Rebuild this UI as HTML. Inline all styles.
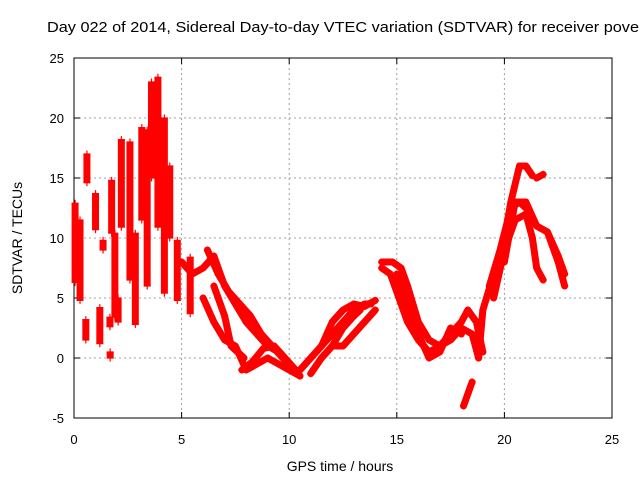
<!DOCTYPE html>
<html><head><meta charset="utf-8"><style>
body{margin:0;background:#fff}
svg{display:block}
text{font-family:"Liberation Sans",sans-serif;font-size:13px;fill:#000}
</style></head><body>
<svg id="chart" width="640" height="480">
<rect width="640" height="480" fill="#fff"/>
<text x="47" y="32" style="font-size:15px" textLength="592" lengthAdjust="spacingAndGlyphs">Day 022 of 2014, Sidereal Day-to-day VTEC variation (SDTVAR) for receiver pove</text>
<g id="grid"></g>
<g id="axes"></g>
<g id="marks"></g>
<text x="340" y="471" text-anchor="middle" style="font-size:14px">GPS time / hours</text>
<text transform="translate(22,238) rotate(-90)" text-anchor="middle" style="font-size:14px">SDTVAR / TECUs</text>
</svg>
<script>
const xTicks=[0,5,10,15,20,25];
const yTicks=[-5,0,5,10,15,20,25];
// early vertical clusters: [hour, low, high]
const spikeHours=[0.05,0.28,0.6,0.55,1.0,1.2,1.35,1.67,1.68,1.75,1.9,2.2,2.05,2.6,2.85,3.15,3.4,3.6,3.9,4.2,4.45,4.8,5.4];
const spikeLow=[6.3,4.8,14.6,1.5,10.7,1.2,9.0,2.6,0.0,10.4,3.4,10.9,3.0,6.5,2.8,11.5,6.0,15.0,10.9,5.4,10.0,4.8,3.7];
const spikeHigh=[12.9,11.5,17.0,3.2,13.7,4.2,9.8,3.4,0.5,14.8,10.4,18.2,5.0,18.0,10.4,19.2,19.0,23.0,23.4,20.0,16.0,9.8,8.4];
// tracks: arrays of hours and values
const trackHours=[
[5.0,5.5,6.0,6.5,7.0,7.5,8.0,8.5,9.0,9.5,10.0,10.5],
[6.2,6.7,7.2,7.7,8.2,8.7,9.2,9.7,10.3],
[6.0,6.5,7.0,7.5,8.0,8.5,9.0,9.5,10.0,10.5],
[6.5,7.0,7.3,7.6,7.9],
[7.8,8.3,8.8,9.3,9.8,10.3],
[10.5,11.0,11.5,12.0,12.5,13.0,13.5,13.8],
[11.0,11.5,12.0,12.5,13.0,13.3],
[11.5,12.0,12.5,13.0,13.5,14.0],
[12.0,12.5,13.0,13.5,14.0],
[14.3,14.8,15.2,15.5,16.0,16.5,17.0,17.5,18.0,18.5,18.8],
[14.3,14.7,15.0,15.5,16.0,16.5,17.0,17.5,18.0,18.3,18.7,19.0],
[15.0,15.5,16.0,16.5,17.0,17.5,18.0],
[18.1,18.3,18.5],
[18.8,19.0,19.5,20.0,20.3,20.7,21.0,21.3],
[21.5,21.8],
[19.3,19.8,20.3,20.7,21.0,21.5,22.0,22.5,22.8],
[19.5,20.0,20.5,21.0,21.3,21.5,21.8],
[20.0,20.5,21.0,21.5,22.0,22.5,22.8]
];
const trackValues=[
[8,7,7.5,8.5,6,4.5,3,2,1,0.5,-0.5,-1.5],
[9,7,5.5,4.5,3.5,2,1,0,-1],
[5,3,1.5,1,-1,-0.5,0,-0.5,-1,-1.5],
[6,3.5,1,0.5,0],
[-1,-0.3,0.8,1,0,-1],
[-1,0,1,2,3,4,4.5,4.5],
[-1.3,0,1,2.5,3.5,4],
[1,3,4,4.5,4.3,4.8],
[1,1,2,3,4],
[8,8,7.5,6,3,1.5,1,1.5,2.5,2,0],
[7.5,7,5.5,3,1.5,0.5,1,2,3,4,3,0.5],
[7,4.5,2,0,0.5,2.5,2],
[-4,-3,-2],
[0,4,7,10,13,16,16,15.2],
[15,15.3],
[6,9,12.5,13,12.5,11,10.5,8.5,7],
[5,9,11.5,12,10,7.5,6.5],
[8,13,13,11,10.5,8,6]
];
const X0=74,X1=612,Y0=418,Y1=58,XMIN=0,XMAX=25,YMIN=-5,YMAX=25;
const sx=h=>X0+(h-XMIN)/(XMAX-XMIN)*(X1-X0);
const sy=v=>Y0-(v-YMIN)/(YMAX-YMIN)*(Y0-Y1);
const NS="http://www.w3.org/2000/svg";
const grid=document.getElementById('grid'),axes=document.getElementById('axes'),marks=document.getElementById('marks');
function mk(tag,at,parent){const e=document.createElementNS(NS,tag);for(const k in at)e.setAttribute(k,at[k]);parent.appendChild(e);return e;}
xTicks.forEach(t=>{
  const x=sx(t);
  if(t>XMIN&&t<XMAX){const g=mk('line',{x1:x,x2:x,y1:Y1,y2:Y0,stroke:'#a0a0a0','stroke-dasharray':'2,3'},grid);
  
  }
  mk('line',{x1:x,x2:x,y1:Y0,y2:Y0-6,stroke:'#000'},axes);
  mk('line',{x1:x,x2:x,y1:Y1,y2:Y1+6,stroke:'#000'},axes);
  const l=mk('text',{x:x,y:Y0+26,'text-anchor':'middle'},axes);l.textContent=t;
  
  
});
yTicks.forEach(t=>{
  const y=sy(t);
  if(t>YMIN&&t<YMAX){const g=mk('line',{x1:X0,x2:X1,y1:y,y2:y,stroke:'#a0a0a0','stroke-dasharray':'2,3'},grid);
  
  }
  mk('line',{x1:X0,x2:X0+6,y1:y,y2:y,stroke:'#000'},axes);
  mk('line',{x1:X1,x2:X1-6,y1:y,y2:y,stroke:'#000'},axes);
  const l=mk('text',{x:X0-10,y:y+5,'text-anchor':'end'},axes);l.textContent=t;
  
  
});
mk('rect',{x:X0,y:Y1,width:X1-X0,height:Y0-Y1,fill:'none',stroke:'#000'},axes);
function plus(x,y,parent){return mk('path',{d:`M${x-3.5} ${y}h7M${x} ${y-3.5}v7`,stroke:'#f00','stroke-width':1.2,fill:'none'},parent);}
spikeHours.forEach((h,i)=>{
  const g=mk('g',{},marks);
  
  
  const x=sx(h),ya=sy(spikeLow[i]),yb=sy(spikeHigh[i]);
  mk('line',{x1:x,x2:x,y1:ya,y2:yb,stroke:'#f00','stroke-width':7},g);
  plus(x,ya,g);plus(x,yb,g);
});
trackHours.forEach((hs,i)=>{
  const g=mk('g',{},marks);
  
  
  const pts=hs.map((h,j)=>sx(h)+','+sy(trackValues[i][j])).join(' ');
  mk('polyline',{points:pts,fill:'none',stroke:'#f00','stroke-width':7,'stroke-linejoin':'round','stroke-linecap':'round'},g);
  hs.forEach((h,j)=>plus(sx(h),sy(trackValues[i][j]),g));
});
</script>
</body></html>
